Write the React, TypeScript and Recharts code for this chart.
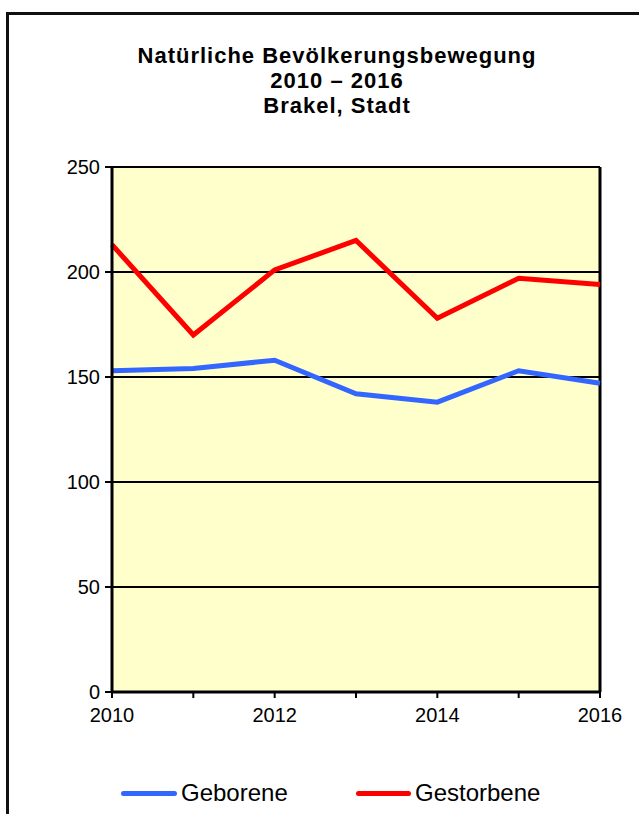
import React from "react";
import { LineChart, Line, XAxis, YAxis, CartesianGrid, ReferenceLine } from "recharts";

const years = [2010, 2011, 2012, 2013, 2014, 2015, 2016];
const geborene = [153, 154, 158, 142, 138, 153, 147];
const gestorbene = [213, 170, 201, 215, 178, 197, 194];
const yTicks = [0, 50, 100, 150, 200, 250];
const xLabelYears = [2010, 2012, 2014, 2016];
const titleLines = ["Natürliche Bevölkerungsbewegung", "2010 – 2016", "Brakel, Stadt"];
const seriesNames = ["Geborene", "Gestorbene"];
const seriesColors = ["#3366FF", "#FF0000"];

const data = years.map((y, i) => ({ year: y, geborene: geborene[i], gestorbene: gestorbene[i] }));

const FONT = "'Liberation Sans', Arial, sans-serif";

export default function App() {
  return (
    <div style={{ position: "absolute", left: 0, top: 0, width: 639, height: 814, overflow: "hidden", background: "#fff", fontFamily: FONT }}>
      <div style={{ position: "absolute", left: 6, top: 12, width: 631, height: 900, borderLeft: "3px solid #111", borderTop: "3px solid #111", borderRight: "1px solid #c8c8c8" }} />
      <div style={{ position: "absolute", left: 0, top: 43, width: 674, textAlign: "center", fontWeight: "bold", fontSize: 22, lineHeight: "25px", letterSpacing: "1px", color: "#000" }}>
        {titleLines.map((t) => (
          <div key={t}>{t}</div>
        ))}
      </div>
      <div style={{ position: "absolute", left: 0, top: 0 }}>
        <LineChart width={639} height={814} data={data} margin={{ top: 167, right: 39, bottom: 0, left: 0 }}>
          <CartesianGrid vertical={false} stroke="#000" strokeWidth={2} fill="#FFFFCC" fillOpacity={1} />
          <XAxis
            dataKey="year"
            type="number"
            domain={[2010, 2016]}
            ticks={years}
            interval={0}
            height={122}
            tickSize={6}
            tickMargin={10}
            axisLine={{ stroke: "#000", strokeWidth: 3 }}
            tickLine={{ stroke: "#000", strokeWidth: 2 }}
            tick={{ fill: "#000", fontSize: 20, fontFamily: FONT }}
            tickFormatter={(v: number) => (xLabelYears.includes(v) ? String(v) : "")}
          />
          <YAxis
            type="number"
            domain={[0, 250]}
            ticks={yTicks}
            interval={0}
            width={112}
            tickSize={7}
            tickMargin={5}
            axisLine={{ stroke: "#000", strokeWidth: 3 }}
            tickLine={{ stroke: "#000", strokeWidth: 2 }}
            tick={{ fill: "#000", fontSize: 20, fontFamily: FONT }}
          />
          <ReferenceLine x={2016} stroke="#000" strokeWidth={3} />
          <Line dataKey="geborene" name={seriesNames[0]} stroke={seriesColors[0]} strokeWidth={5} dot={false} isAnimationActive={false} />
          <Line dataKey="gestorbene" name={seriesNames[1]} stroke={seriesColors[1]} strokeWidth={5} dot={false} isAnimationActive={false} />
        </LineChart>
      </div>
      <div style={{ position: "absolute", left: 121, top: 779, fontSize: 24, lineHeight: "28px", color: "#000", display: "flex", alignItems: "center" }}>
        <span style={{ display: "inline-block", width: 56, height: 5, borderRadius: 3, background: seriesColors[0], marginRight: 4 }} />
        <span>{seriesNames[0]}</span>
      </div>
      <div style={{ position: "absolute", left: 356, top: 779, fontSize: 24, lineHeight: "28px", color: "#000", display: "flex", alignItems: "center" }}>
        <span style={{ display: "inline-block", width: 55, height: 5, borderRadius: 3, background: seriesColors[1], marginRight: 4 }} />
        <span>{seriesNames[1]}</span>
      </div>
    </div>
  );
}
